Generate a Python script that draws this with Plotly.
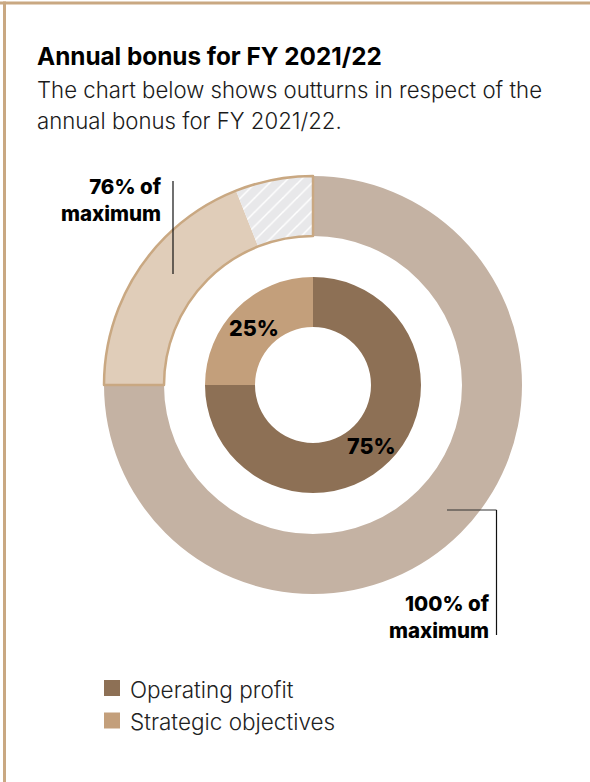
import math
import plotly.graph_objects as go

W, H = 590, 782

# Data
inner_labels = ["Operating profit", "Strategic objectives"]
inner_values = [75, 25]
outer_labels = ["Operating profit (100% of maximum)", "Strategic objectives achieved", "Strategic objectives not achieved"]
outer_values = [75, 19, 6]
outline_values = [75, 25]
title_text = "Annual bonus for FY 2021/22"
subtitle_lines = ["The chart below shows outturns in respect of the", "annual bonus for FY 2021/22."]
label_76 = "76% of<br>maximum"
label_100 = "100% of<br>maximum"

C_DARK = "#8d7055"
C_TAN = "#c39f7b"
C_GREY = "#c4b2a3"
C_BEIGE = "#e0cdb9"
C_HATCH = "#e8e8ea"
C_BORDER = "#c9a882"

def px(x):
    return x / W

def py(y):
    return 1 - y / H

cx, cy = 313, 385
R_out, R_out_hole = 209, 149
R_in, R_in_hole = 108, 58

outer_domain = dict(x=[px(cx - R_out), px(cx + R_out)], y=[py(cy + R_out), py(cy - R_out)])
inner_domain = dict(x=[px(cx - R_in), px(cx + R_in)], y=[py(cy + R_in), py(cy - R_in)])

fig = go.Figure()

fig.add_trace(go.Pie(
    labels=outer_labels, values=outer_values, sort=False, direction="clockwise",
    rotation=0, hole=R_out_hole / R_out, domain=outer_domain, textinfo="none",
    marker=dict(colors=[C_GREY, C_BEIGE, C_HATCH],
                pattern=dict(shape=["", "", "/"], fgcolor="#ffffff", bgcolor=C_HATCH,
                             size=10, solidity=0.15),
                line=dict(width=0)),
    showlegend=False, hoverinfo="label"))

fig.add_trace(go.Pie(
    labels=["a", "b"], values=outline_values, sort=False, direction="clockwise",
    rotation=0, hole=R_out_hole / R_out, domain=outer_domain, textinfo="none",
    marker=dict(colors=["rgba(0,0,0,0)", "rgba(0,0,0,0)"],
                line=dict(width=[0, 2.5], color=[C_BORDER, C_BORDER])),
    showlegend=False, hoverinfo="skip"))

fig.add_trace(go.Pie(
    labels=inner_labels, values=inner_values, sort=False, direction="clockwise",
    rotation=0, hole=R_in_hole / R_in, domain=inner_domain, textinfo="none",
    marker=dict(colors=[C_DARK, C_TAN], line=dict(width=0)),
    showlegend=False, hoverinfo="label+percent"))

shapes = [
    dict(type="line", xref="paper", yref="paper", x0=0, x1=1, y0=py(3), y1=py(3),
         line=dict(color=C_BORDER, width=3)),
    dict(type="line", xref="paper", yref="paper", x0=px(4.5), x1=px(4.5), y0=0, y1=py(1.5),
         line=dict(color=C_BORDER, width=3)),
    # leader lines
    dict(type="line", xref="paper", yref="paper", x0=px(173), x1=px(173), y0=py(181), y1=py(274),
         line=dict(color="#111111", width=1.2)),
    dict(type="line", xref="paper", yref="paper", x0=px(447), x1=px(496.5), y0=py(510), y1=py(510),
         line=dict(color="#333333", width=1.2)),
    dict(type="line", xref="paper", yref="paper", x0=px(496.5), x1=px(496.5), y0=py(510), y1=py(635),
         line=dict(color="#111111", width=1.2)),
]

legend_colors = [C_DARK, C_TAN]
legend_y = [688, 720.5]
for lab, col, ly in zip(inner_labels, legend_colors, legend_y):
    shapes.append(dict(type="rect", xref="paper", yref="paper",
                       x0=px(104), x1=px(120), y0=py(ly + 8), y1=py(ly - 8),
                       fillcolor=col, line=dict(width=0)))

def ann(text, x, y, size, anchor="left", color="#000000", weight=400, family="Inter"):
    return dict(text=text, x=px(x), y=py(y), xref="paper", yref="paper",
                xanchor=anchor, yanchor="middle", showarrow=False, align=anchor,
                font=dict(family=family, size=size, color=color, weight=weight))

annotations = [
    ann(title_text, 35, 55.5, 24.3, weight=700),
    ann(subtitle_lines[0], 35, 90, 22.2, color="#1a1a1a", weight=300),
    ann(subtitle_lines[1], 35, 121, 22.2, color="#1a1a1a", weight=300),
    ann(label_76, 164, 200, 20.5, anchor="right", weight=800),
    ann(label_100, 492, 617, 20.5, anchor="right", weight=800),
]
for lab, ly in zip(inner_labels, legend_y):
    annotations.append(ann(lab, 128, ly + 1, 22.5, color="#222222", weight=300))

# percentage labels at the middle of each inner slice
total = sum(inner_values)
cum = 0
r_mid = (R_in + R_in_hole) / 2
for v in inner_values:
    frac = (cum + v / 2) / total
    th = 2 * math.pi * frac
    annotations.append(ann(f"{round(100 * v / total)}%", cx + r_mid * math.sin(th),
                           cy - r_mid * math.cos(th) + 2, 21.5, anchor="center", weight=800))
    cum += v

fig.update_layout(
    width=W, height=H, margin=dict(l=0, r=0, t=0, b=0),
    paper_bgcolor="#ffffff", plot_bgcolor="#ffffff",
    shapes=shapes, annotations=annotations, showlegend=False,
)

fig.write_html("out.html", config={"displayModeBar": False},
               post_script="document.body.style.margin='0';document.body.style.overflow='hidden';")
